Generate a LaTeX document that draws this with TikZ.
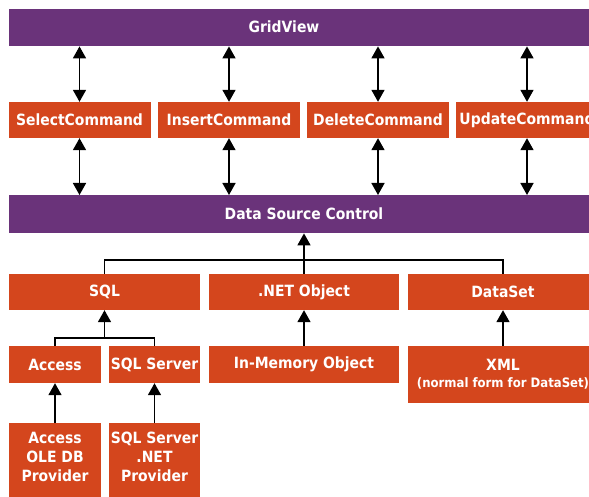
\documentclass[tikz,border=0pt]{standalone}
\usepackage{fontspec}
\setmainfont{DejaVu Sans Condensed}
\usetikzlibrary{arrows.meta}
\definecolor{barpurple}{HTML}{6A337A}
\definecolor{boxorange}{HTML}{D4461D}
\tikzset{
  bar/.style={fill=barpurple, draw=none, inner sep=0pt, minimum height=37pt},
  box/.style={fill=boxorange, draw=none, inner sep=0pt, text=white, font=\bfseries\fontsize{15.5}{19}\selectfont, align=center},
  lbl/.style={text=white, font=\bfseries\fontsize{15.5}{19}\selectfont, inner sep=0pt},
  conn/.style={line width=1.6pt, black},
  arr/.style={conn, -{Triangle[width=13pt,length=12pt]}},
  dbl/.style={conn, {Triangle[width=13pt,length=12pt]}-{Triangle[width=13pt,length=12pt]}},
}
\begin{document}
\begin{tikzpicture}[x=1pt,y=-1pt]
\useasboundingbox (0,0) rectangle (589,497);
\clip (0,0) rectangle (589,497);
\fill[white] (0,0) rectangle (589,497);
% bars
\node[bar, minimum width=600pt, anchor=north west] (gv) at (9,9) {};
\node[lbl] (gvt) at (284,27) {GridView};
\node[bar, minimum width=600pt, minimum height=38pt, anchor=north west] (dsc) at (9,195) {};
\node[lbl] (dsct) at (304,214) {Data Source Control};
% commands
\node[box, minimum width=142pt, minimum height=36pt] (sc) at (79.5,120) {SelectCommand};
\node[box, minimum width=142pt, minimum height=36pt] (ic) at (229,120) {InsertCommand};
\node[box, minimum width=142pt, minimum height=36pt] (dc) at (378,120) {DeleteCommand};
\node[box, minimum width=142pt, minimum height=36pt] (uc) at (527,120) {UpdateCommand};
\foreach \n in {sc,ic,dc,uc}{
  \draw[dbl] (\n.north |- gv.south) -- (\n.north);
  \draw[dbl] (\n.south) -- (\n.south |- dsc.north);
}
% sources
\node[box, minimum width=191pt, minimum height=36pt] (sql) at (104.5,292) {SQL};
\node[box, minimum width=190pt, minimum height=36pt] (net) at (304,292) {.NET Object};
\node[box, minimum width=191pt, minimum height=36pt] (ds) at (503,292) {DataSet};
\draw[arr] (net.north) -- (net.north |- dsc.south);
\draw[conn] (sql.north) -- ++(0,-14) coordinate (tl) -| (ds.north);
% third row
\node[box, minimum width=92pt, minimum height=37pt] (acc) at (55,364.5) {Access};
\node[box, minimum width=91pt, minimum height=37pt] (sqls) at (154.5,364.5) {SQL Server};
\node[box, minimum width=190pt, minimum height=37pt] (inm) at (304,364.5) {In-Memory Object};
\node[box, minimum width=191pt, minimum height=57pt] (xml) at (503,374.5) {XML\\[-2pt]{\fontsize{13}{15}\selectfont(normal form for DataSet)}};
\draw[conn] (acc.north) -- ++(0,-8) -| (sqls.north);
\coordinate (sqlj) at (sql.south |- 0,338);
\draw[arr] (sqlj) -- (sql.south);
\draw[arr] (inm.north) -- (net.south);
\draw[arr] (ds.south |- xml.north) -- (ds.south);
% bottom row
\node[box, minimum width=92pt, minimum height=80pt, anchor=north] (aole) at (55,423) {};
\node[lbl, align=center, anchor=north] (aolet) at (55,432) {Access\\OLE DB\\Provider};
\node[box, minimum width=91pt, minimum height=80pt, anchor=north] (sqlp) at (154.5,423) {};
\node[lbl, align=center, anchor=north] (sqlpt) at (154.5,432) {SQL Server\\.NET\\Provider};
\draw[arr] (aole.north) -- (acc.south);
\draw[arr] (sqlp.north) -- (sqls.south);
\end{tikzpicture}
\end{document}
